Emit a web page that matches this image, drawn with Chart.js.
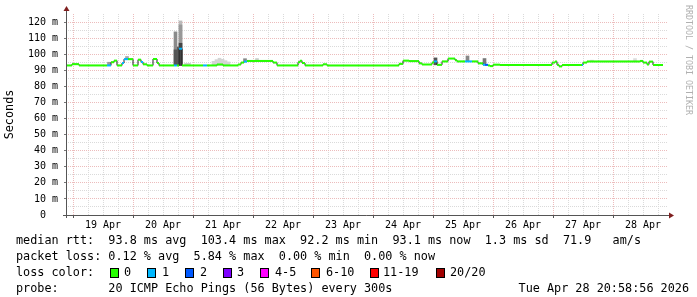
<!DOCTYPE html>
<html>
<head>
<meta charset="utf-8">
<script src="https://cdn.jsdelivr.net/npm/chart.js@4.4.0/dist/chart.umd.min.js"></script>
<style>
html, body { margin: 0; padding: 0; background: #fff; }
</style>
</head>
<body>
<canvas id="smoke" width="697" height="297"></canvas>
<script>
// x values are hours counted from 18 Apr 00:00
var medianHours = [21.2, 23.6, 26.4, 37.6, 39.2, 40.4, 41.6, 43.6, 44.4, 46.0,
  48.0, 50.0, 51.2, 52.0, 53.6, 56.0, 57.6, 58.4, 64.4, 65.6,
  66.4, 67.6, 76.0, 77.6, 81.6, 84.0, 90.0, 91.2, 92.4, 93.6,
  104.0, 105.6, 114.0, 114.8, 115.6, 116.8, 124.0, 125.6, 154.4, 156.0,
  158.4, 162.4, 163.6, 167.6, 168.4, 169.6, 171.6, 174.0, 176.8, 177.6,
  180.8, 183.6, 186.0, 188.0, 188.8, 190.0, 190.8, 192.0, 194.8, 215.6,
  216.8, 217.6, 218.4, 219.6, 227.6, 228.0, 229.6, 250.8, 252.0, 253.6,
  254.4, 256.0, 260.0];
var medianRtt = [93.0, 93.8, 93.0, 93.0, 95.0, 96.0, 93.0, 94.5, 96.9, 96.9,
  93.0, 96.6, 95.2, 93.7, 93.0, 97.0, 94.5, 93.0, 93.0, 93.0,
  103.4, 93.0, 93.0, 93.0, 93.6, 93.0, 93.6, 94.8, 95.4, 95.8,
  94.8, 93.0, 95.0, 96.0, 94.5, 93.0, 93.7, 93.0, 94.0, 96.0,
  95.7, 94.3, 93.6, 94.8, 95.5, 93.4, 95.5, 97.3, 96.3, 95.5,
  95.5, 95.5, 94.3, 93.4, 93.4, 93.0, 92.6, 93.5, 93.3, 94.8,
  95.4, 93.4, 92.4, 93.3, 93.3, 94.8, 95.5, 95.8, 94.8, 93.6,
  95.4, 93.3, 93.3];
var medianLoss = [0, 0, 0, 1, 0, 0, 0, 1, 1, 0,
  0, 0, 1, 0, 0, 0, 0, 0, 1, 0,
  1, 0, 1, 0, 0, 0, 0, 0, 1, 0,
  0, 0, 0, 0, 0, 0, 0, 0, 0, 0,
  0, 0, 0, 0, 1, 0, 0, 0, 0, 0,
  1, 0, 0, 1, 2, 0, 0, 0, 0, 0,
  0, 0, 0, 0, 1, 0, 0, 0, 0, 0,
  0, 0, 0];

// smoke (spread of the 20 pings), low / high in ms
var smokeHours = [38.4, 45.6, 66.0, 65.0, 65.0, 67.0, 67.0, 67.0, 69.2, 70.4,
  80.2, 81.4, 82.6, 83.8, 85.0, 86.2, 92.8, 97.6, 169.0, 181.8,
  188.6, 231.6, 248.8];
var smokeLow = [93.0, 96.9, 93.0, 93.0, 93.0, 93.0, 93.0, 93.0, 93.0, 93.0,
  93.0, 93.0, 93.0, 93.0, 93.0, 93.0, 95.4, 95.8, 93.4, 95.5,
  93.4, 95.5, 95.5];
var smokeHigh = [95.0, 98.6, 104.5, 113.9, 102.7, 120.7, 118.2, 106.8, 94.3, 94.3,
  95.6, 96.6, 97.5, 96.8, 96.0, 95.2, 97.2, 97.3, 97.7, 98.9,
  97.3, 96.3, 97.3];
var smokeShade = ['#999', '#aaa', '#444', '#8a8a8a', '#555', '#bbb', '#999', '#444', '#ccc', '#ccc',
  '#d4d4d4', '#d4d4d4', '#d4d4d4', '#d4d4d4', '#d4d4d4', '#d4d4d4', '#888', '#ccc', '#555', '#888',
  '#777', '#ddd', '#ddd'];

var dayLabels = ['19 Apr', '20 Apr', '21 Apr', '22 Apr', '23 Apr', '24 Apr', '25 Apr', '26 Apr', '27 Apr', '28 Apr'];
var lossColors = ['#26ff00', '#00b8ff', '#0059ff', '#7e00ff', '#ff00ff', '#ff5500', '#ff0000', '#a10000'];
var lossLabels = ['0', '1', '2', '3', '4-5', '6-10', '11-19', '20/20'];

var mono = 'DejaVu Sans Mono';
Chart.defaults.font.family = mono;
Chart.defaults.color = '#000';

var majorGrid = '#ecbcbc';
var minorGrid = '#dadada';

// dark stepped line gives the vertical connectors
var stepPoints = medianHours.map(function (h, i) { return { x: h, y: medianRtt[i] }; });
// coloured horizontal pieces, one per interval, split by gaps
var flatPoints = [];
for (var i = 0; i < medianHours.length - 1; i++) {
  flatPoints.push({ x: medianHours[i], y: medianRtt[i] });
  flatPoints.push({ x: medianHours[i + 1], y: medianRtt[i] });
  flatPoints.push({ x: medianHours[i + 1], y: null });
}
var smokePoints = smokeHours.map(function (h, i) { return { x: h, y: [smokeLow[i], smokeHigh[i]] }; });

var rrdDecor = {
  id: 'rrdDecor',
  afterDraw: function (chart) {
    var ctx = chart.ctx;
    var a = chart.chartArea;
    ctx.save();
    // axes
    ctx.strokeStyle = '#555';
    ctx.lineWidth = 1;
    ctx.beginPath();
    ctx.moveTo(a.left + 0.5, a.bottom + 3);
    ctx.lineTo(a.left + 0.5, a.top - 4);
    ctx.moveTo(a.left - 3, a.bottom + 0.5);
    ctx.lineTo(a.right + 2, a.bottom + 0.5);
    ctx.stroke();
    ctx.fillStyle = '#7f1f1f';
    ctx.beginPath();
    ctx.moveTo(a.left - 2.5, a.top - 3);
    ctx.lineTo(a.left + 0.5, a.top - 8);
    ctx.lineTo(a.left + 3.5, a.top - 3);
    ctx.closePath();
    ctx.fill();
    ctx.beginPath();
    ctx.moveTo(a.right + 1, a.bottom - 2.5);
    ctx.lineTo(a.right + 6, a.bottom + 0.5);
    ctx.lineTo(a.right + 1, a.bottom + 3.5);
    ctx.closePath();
    ctx.fill();

    // watermark
    ctx.save();
    ctx.translate(688, 5);
    ctx.rotate(Math.PI / 2);
    ctx.font = '8.3px ' + mono;
    ctx.fillStyle = '#b0b0b0';
    ctx.textBaseline = 'middle';
    ctx.textAlign = 'left';
    ctx.fillText('RRDTOOL / TOBI OETIKER', 0, 0);
    ctx.restore();

    // legend block
    ctx.font = '11.8px ' + mono;
    ctx.fillStyle = '#000';
    ctx.textBaseline = 'middle';
    ctx.textAlign = 'left';
    ctx.fillText('median rtt:  93.8 ms avg  103.4 ms max  92.2 ms min  93.1 ms now  1.3 ms sd  71.9   am/s', 16, 241);
    ctx.fillText('packet loss: 0.12 % avg  5.84 % max  0.00 % min  0.00 % now', 16, 257);
    ctx.fillText('loss color:', 16, 273);
    ctx.fillText('probe:       20 ICMP Echo Pings (56 Bytes) every 300s', 16, 289);
    ctx.textAlign = 'right';
    ctx.fillText('Tue Apr 28 20:58:56 2026', 689, 289);
    ctx.textAlign = 'left';
    var boxX = [109.5, 147, 185, 222.5, 260, 311, 369.5, 435.5];
    var labelX = [124, 162, 200, 237, 275, 326, 383, 450];
    for (var k = 0; k < lossColors.length; k++) {
      ctx.fillStyle = lossColors[k];
      ctx.fillRect(Math.round(boxX[k]), 268, 9, 10);
      ctx.strokeStyle = '#000';
      ctx.strokeRect(Math.round(boxX[k]) + 0.5, 268.5, 8, 9);
      ctx.fillStyle = '#000';
      ctx.fillText(lossLabels[k], labelX[k], 273);
    }
    ctx.restore();
  }
};

new Chart(document.getElementById('smoke'), {
  type: 'line',
  data: {
    datasets: [{
      type: 'line',
      label: 'median rtt',
      data: flatPoints,
      spanGaps: false,
      borderWidth: 2,
      pointRadius: 0,
      borderColor: lossColors[0],
      segment: {
        borderColor: function (c) { return lossColors[medianLoss[Math.floor(c.p0DataIndex / 3)]]; }
      },
      order: 0
    }, {
      type: 'line',
      label: 'median steps',
      data: stepPoints,
      stepped: true,
      borderWidth: 1,
      pointRadius: 0,
      borderColor: '#1e1e1e',
      order: 1
    }, {
      type: 'bar',
      label: 'smoke',
      data: smokePoints,
      backgroundColor: smokeShade,
      barThickness: 3,
      grouped: false,
      order: 2
    }]
  },
  options: {
    responsive: false,
    animation: false,
    events: [],
    layout: { padding: { left: 0, top: 14, right: 29, bottom: 0 } },
    plugins: { legend: { display: false }, tooltip: { enabled: false } },
    scales: {
      x: {
        type: 'linear',
        min: 21.2,
        max: 262,
        offset: false,
        afterFit: function (s) { s.height = 82; },
        afterBuildTicks: function (s) {
          var t = [];
          for (var h = 24; h < 262; h += 6) t.push({ value: h });
          s.ticks = t;
        },
        border: { display: false, dash: [1, 1] },
        grid: {
          offset: false,
          lineWidth: 1,
          tickLength: 3,
          color: function (c) { return c.tick && c.tick.value % 24 === 0 ? majorGrid : minorGrid; },
          tickColor: function (c) { return c.tick && c.tick.value % 24 === 0 ? '#555' : 'rgba(0,0,0,0)'; }
        },
        ticks: {
          autoSkip: false,
          maxRotation: 0,
          minRotation: 0,
          padding: 1,
          font: { size: 10 },
          callback: function (v) { return v % 24 === 12 ? dayLabels[(v - 36) / 24] : ''; }
        }
      },
      y: {
        min: 0,
        max: 125,
        afterFit: function (s) { s.width = 66; },
        afterBuildTicks: function (s) {
          var t = [];
          for (var v = 0; v <= 125; v += 5) t.push({ value: v });
          s.ticks = t;
        },
        border: { display: false, dash: [1, 1] },
        grid: {
          lineWidth: 1,
          tickLength: 2,
          color: function (c) {
            if (!c.tick) return minorGrid;
            if (c.tick.value === 125) return 'rgba(0,0,0,0)';
            return c.tick.value % 10 === 0 ? majorGrid : minorGrid;
          },
          tickColor: function (c) { return c.tick && c.tick.value % 10 === 0 && c.tick.value < 125 ? '#777' : 'rgba(0,0,0,0)'; }
        },
        title: {
          display: true,
          text: 'Seconds',
          font: { size: 11.8 },
          padding: { top: 3, bottom: 0 }
        },
        ticks: {
          autoSkip: false,
          padding: 6,
          font: { size: 10 },
          callback: function (v) {
            if (v === 0) return '0  ';
            return (v % 10 === 0 && v < 125) ? v + ' m' : '';
          }
        }
      }
    }
  },
  plugins: [rrdDecor]
});
</script>
</body>
</html>
